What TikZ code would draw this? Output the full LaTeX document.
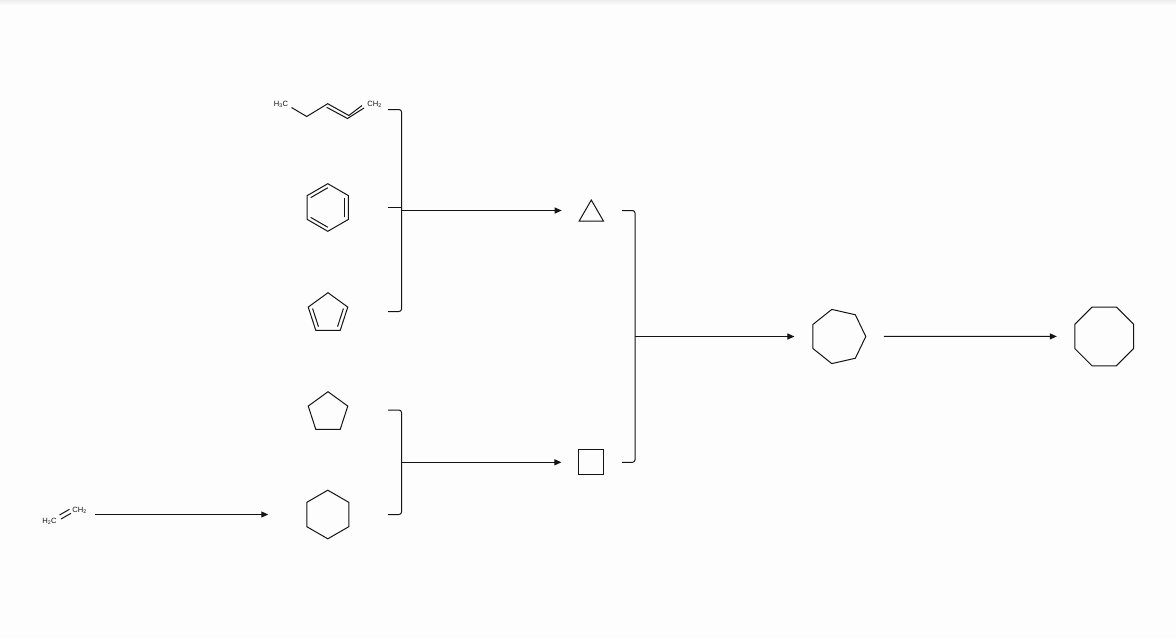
\documentclass[tikz,border=0pt]{standalone}
\usepackage{fontspec}
\setmainfont{Liberation Sans}
\usetikzlibrary{shapes.geometric, arrows.meta, calc}

\definecolor{pagebg}{RGB}{253,253,253}
\definecolor{stripcol}{RGB}{236,236,238}
\definecolor{bondcol}{RGB}{20,20,20}

\begin{document}
\begin{tikzpicture}[
      x=1pt, y=-1pt,
      ring/.style={regular polygon, draw=bondcol, line width=1pt, inner sep=0pt, outer sep=0pt},
      atom/.style={font=\fontsize{7.6}{8}\selectfont, inner sep=0pt, text=bondcol},
      bond/.style={draw=bondcol, line width=1pt},
      brk/.style={draw=bondcol, line width=1pt, rounded corners=2.5pt},
      arr/.style={-{Triangle[length=7pt,width=6pt]}, draw=bondcol, fill=bondcol, line width=1pt},
    ]
      \useasboundingbox (0,0) rectangle (1176,638);
      \fill[pagebg] (0,0) rectangle (1176,638);
      \shade[top color=stripcol, bottom color=pagebg] (0,0) rectangle (1176,5);

      % rings
      \node[ring, regular polygon sides=6, shape border rotate=30, minimum size=47.6pt] (benz) at (327.8,207.5) {};
      \node[ring, regular polygon sides=5, minimum size=41.6pt] (cpd) at (328,313.5) {};
      \node[ring, regular polygon sides=5, minimum size=41.6pt] (cpa) at (328,412.5) {};
      \node[ring, regular polygon sides=6, shape border rotate=30, minimum size=48.6pt] (chx) at (327.8,514.5) {};
      \node[ring, regular polygon sides=3, minimum size=28pt] (tri) at (591.3,214) {};
      \node[ring, regular polygon sides=4, minimum size=35pt] (sqr) at (591.3,462.3) {};
      \node[ring, regular polygon sides=7, shape border rotate=-90, minimum size=55.6pt] (hep) at (838,336.5) {};
      \node[ring, regular polygon sides=8, minimum size=63.6pt] (oct) at (1104.2,336.4) {};

      % inner bonds
      \foreach \a/\b in {1/2, 3/4, 5/6}
        \draw[bond] ($(benz.center)!0.83!(benz.corner \a)$) -- ($(benz.center)!0.83!(benz.corner \b)$);
      \foreach \a/\b in {2/3, 4/5}
        \draw[bond] ($(cpd.center)!0.78!(cpd.corner \a)$) -- ($(cpd.center)!0.78!(cpd.corner \b)$);

      % pentadiene
      \node[atom] (ch3) at (281,104.6) {H\textsubscript{3}C};
      \node[atom] (ch2a) at (374.5,104.6) {CH\textsubscript{2}};
      \coordinate (p1) at (306.7,116.5);
      \coordinate (p2) at (327.7,103.7);
      \coordinate (p3) at (348.8,115.5);
      \draw[bond] (291.5,107.5) -- (p1) -- (p2) -- (p3) -- (362,105.5);
      \draw[bond] (326.7,107.3) -- (347.5,118.5) -- (364,108);

      % ethene
      \node[atom] (ch2b) at (49.5,521.3) {H\textsubscript{2}C};
      \node[atom] (ch2c) at (79.5,510) {CH\textsubscript{2}};
      \draw[bond] (59.5,515) -- ++(10,-5.7);
      \draw[bond] (61,519) -- ++(10,-5.7);

      % brackets
      \coordinate (b1a) at (388,109.5);
      \coordinate (b1b) at (388,311.5);
      \coordinate (b1c) at (388,207.5);
      \coordinate (b1x) at (401.5,210.5);
      \coordinate (b2a) at (388,410);
      \coordinate (b2b) at (388,514.5);
      \coordinate (b2x) at (401.5,462.3);
      \coordinate (b3a) at (622,210.5);
      \coordinate (b3b) at (622,462.3);
      \coordinate (b3x) at (635,336.5);
      \draw[brk] (b1a) -| (b1x) |- (b1b);
      \draw[brk] (b1c) -- (b1c -| b1x);
      \draw[brk] (b2a) -| (b2x) |- (b2b);
      \draw[brk] (b3a) -| (b3x) |- (b3b);

      \draw[arr, shorten >=17.5pt] (b1x) -- (b1x -| tri.corner 2);
      \draw[arr, shorten >=17.5pt] (b2x) -- (sqr.west);
      \draw[arr, shorten >=18.5pt] (b3x) -- (hep.west);
      \draw[arr, shorten <=18pt, shorten >=18pt] (hep.east) -- (oct.west);
      \draw[arr, shorten <=8.5pt, shorten >=38.5pt] (ch2c.east |- chx.west) -- (chx.west);
\end{tikzpicture}
\end{document}
